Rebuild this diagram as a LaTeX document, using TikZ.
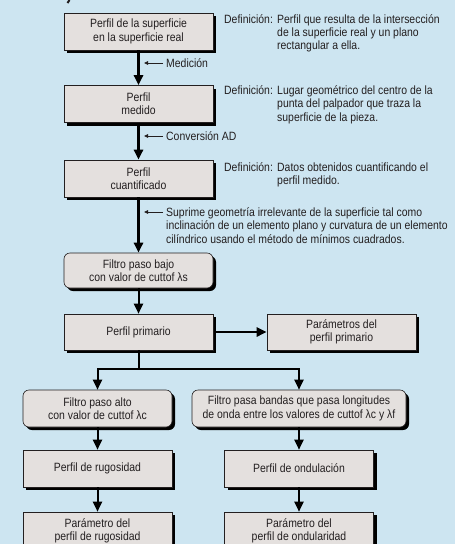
\documentclass[tikz,border=0pt]{standalone}
\usepackage{fontspec}
\setmainfont[FakeStretch=0.87]{Liberation Sans}
\usetikzlibrary{shadows,arrows.meta}
\definecolor{bg}{RGB}{205,229,241}
\definecolor{boxfill}{RGB}{228,224,222}
\definecolor{ink}{RGB}{35,31,32}
\begin{document}
\begin{tikzpicture}[x=1pt,y=-1pt,
  font=\fontsize{12}{13.3}\selectfont, text=ink,
  box/.style={draw=ink, line width=0.6pt, fill=boxfill, minimum width=149pt,
    minimum height=37pt, align=center, inner sep=0pt,
    drop shadow={shadow xshift=3pt, shadow yshift=-3pt, fill=black, opacity=1}},
  rbox/.style={box, rounded corners=6pt},
  flow/.style={line width=2.6pt, draw=black, -{Triangle[length=10pt,width=9pt]}},
  branch/.style={line width=2pt, draw=black, -{Triangle[length=10pt,width=9pt]}},
  note/.style={anchor=base west, inner sep=0pt},
  tick/.style={line width=0.9pt, draw=ink, -{Triangle[length=4pt,width=3.5pt]}}]
\useasboundingbox (0,0) rectangle (455,544);
\fill[bg] (0,0) rectangle (455,544);
\clip (0,0) rectangle (455,544);
\draw[line width=2pt, ink] (69.5,0) -- (67.5,3);

% boxes
\node[box] (b1) at (138.5,31.5) {Perfil de la superficie\\en la superficie real};
\node[box] (b2) at (138.5,104) {Perfil\\medido};
\node[box] (b3) at (138.5,178.5) {Perfil\\cuantificado};
\node[rbox, minimum height=35pt] (b4) at (138.5,270.5) {Filtro paso bajo\\con valor de cuttof λs};
\node[box, minimum height=36pt] (b5) at (138.5,332) {Perfil primario};
\node[box, minimum height=36pt] (b6) at (341.5,332) {Parámetros del\\perfil primario};
\node[rbox] (b7) at (97.5,408.5) {Filtro paso alto\\con valor de cuttof λc};
\node[rbox, minimum width=214pt] (b8) at (299,408.5) {Filtro pasa bandas que pasa longitudes\\de onda entre los valores de cuttof λc y λf};
\node[box] (b9) at (97.5,468.5) {Perfil de rugosidad};
\node[box] (b10) at (299,468.5) {Perfil de ondulación};
\node[box] (b11) at (97.5,530.5) {Parámetro del\\perfil de rugosidad};
\node[box] (b12) at (299,530.5) {Parámetro del\\perfil de ondularidad};

% connectors
\draw[flow] (b1.south) -- (b2.north);
\draw[flow] (b2.south) -- (b3.north);
\draw[flow] (b3.south) -- (b4.north);
\draw[branch] (b4.south) -- (b5.north);
\draw[flow] ([xshift=3pt]b5.east) -- (b6.west);
\coordinate (j) at (138.5,369);
\draw[line width=2pt] (b5.south) -- (j);
\draw[branch] (j) -| (b7.north);
\draw[branch] (j) -| (b8.north);
\draw[branch] (b7.south) -- (b9.north);
\draw[branch] (b8.south) -- (b10.north);
\draw[branch] (b9.south) -- (b11.north);
\draw[branch] (b10.south) -- (b12.north);

% step labels
\node[note] (m1) at (166,67) {Medición};
\coordinate (m1e) at (144,63);
\draw[tick] (163,63) -- (m1e);
\node[note] (m2) at (166,140) {Conversión AD};
\coordinate (m2e) at (144,136);
\draw[tick] (163,136) -- (m2e);
\node[note] (m3a) at (166,216) {Suprime geometría irrelevante de la superficie tal como};
\node[note] (m3b) at (166,229.5) {inclinación de un elemento plano y curvatura de un elemento};
\node[note] (m3c) at (166,243) {cilíndrico usando el método de mínimos cuadrados.};
\coordinate (m3e) at (144,212);
\draw[tick] (163,212) -- (m3e);

% definitions
\node[note] (d1) at (224,23) {Definición:};
\node[note] (d1a) at (277,23) {Perfil que resulta de la intersección};
\node[note] (d1b) at (277,36.3) {de la superficie real y un plano};
\node[note] (d1c) at (277,49.6) {rectangular a ella.};
\node[note] (d2) at (224,94.5) {Definición:};
\node[note] (d2a) at (277,94.5) {Lugar geométrico del centro de la};
\node[note] (d2b) at (277,107.8) {punta del palpador que traza la};
\node[note] (d2c) at (277,121.1) {superficie de la pieza.};
\node[note] (d3) at (224,171) {Definición:};
\node[note] (d3a) at (277,171) {Datos obtenidos cuantificando el};
\node[note] (d3b) at (277,184.3) {perfil medido.};
\end{tikzpicture}
\end{document}
